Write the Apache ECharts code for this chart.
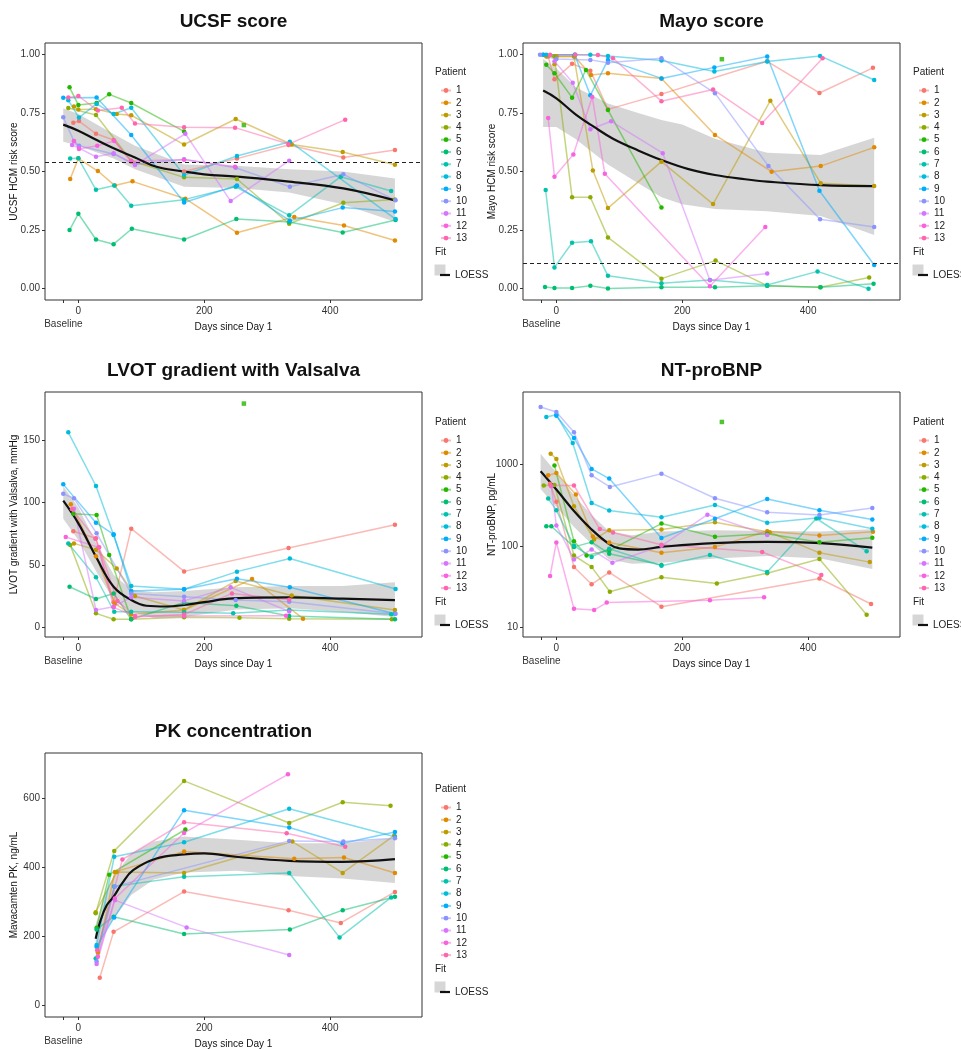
<!DOCTYPE html>
<html lang="en">
<head>
    <meta charset="UTF-8">
    <title>Mavacamten panels</title>
    <script src="https://cdn.jsdelivr.net/npm/echarts@6/dist/echarts.min.js"></script>
    <style>
        * { margin: 0; padding: 0; }
        html, body { background: #fff; }
    </style>
</head>
<body>
<div id="main" style="width: 961px;height:1049px;"></div>
<script type="text/javascript">
    var patients = ['1', '2', '3', '4', '5', '6', '7', '8', '9', '10', '11', '12', '13'];
    var colors = ['#F8766D', '#E18A00', '#BE9C00', '#8CAB00', '#24B700', '#00BE70', '#00C1AB',
        '#00BBDA', '#00ACFC', '#8B93FF', '#D575FE', '#F962DD', '#FF65AC'];
    var dayTicks = [-24, 0, 200, 400];

    // UCSF score, [day, score] per patient
    var ucsf = [
        [[-8, 0.708], [1, 0.715], [28, 0.661], [56, 0.634], [84, 0.542], [168, 0.50], [252, 0.555], [334, 0.613], [421, 0.56], [503, 0.592]],
        [[-13, 0.468], [0, 0.556], [31, 0.502], [58, 0.44], [86, 0.458], [170, 0.384], [252, 0.239], [343, 0.306], [422, 0.27], [503, 0.206]],
        [[-7, 0.777], [0, 0.764], [28, 0.766], [61, 0.745], [84, 0.74], [168, 0.615], [250, 0.724], [339, 0.615], [420, 0.583], [503, 0.529]],
        [[-16, 0.771], [28, 0.741], [84, 0.546], [168, 0.475], [252, 0.468], [335, 0.277], [421, 0.367], [503, 0.381]],
        [[-14, 0.859], [0, 0.784], [29, 0.792], [49, 0.829], [84, 0.792], [168, 0.671]],
        [[-14, 0.25], [0, 0.32], [28, 0.21], [56, 0.19], [85, 0.256], [168, 0.21], [251, 0.297], [335, 0.285], [420, 0.24], [504, 0.293]],
        [[-13, 0.555], [0, 0.556], [28, 0.422], [57, 0.44], [84, 0.354], [168, 0.38], [250, 0.435], [335, 0.313], [417, 0.478], [497, 0.417]],
        [[-16, 0.804], [1, 0.73], [29, 0.788], [56, 0.745], [84, 0.772], [168, 0.485], [252, 0.566], [336, 0.627], [504, 0.297]],
        [[-24, 0.815], [29, 0.816], [84, 0.656], [168, 0.368], [252, 0.44], [336, 0.29], [420, 0.346], [503, 0.329]],
        [[-24, 0.731], [-7, 0.63], [1, 0.61], [56, 0.575], [90, 0.53], [168, 0.552], [250, 0.516], [336, 0.435], [421, 0.488], [504, 0.377]],
        [[-10, 0.613], [1, 0.60], [28, 0.563], [56, 0.578], [90, 0.528], [170, 0.661], [242, 0.374], [335, 0.546]],
        [[-7, 0.63], [1, 0.596], [30, 0.61], [57, 0.63], [84, 0.545], [168, 0.55], [249, 0.52]],
        [[-16, 0.816], [0, 0.822], [31, 0.76], [69, 0.772], [90, 0.705], [168, 0.689], [249, 0.687], [334, 0.617], [424, 0.721]]
    ];
    var ucsfSquare = [[263, 0.698]];
    var ucsfFit = [[-24, 0.70], [0, 0.674], [29, 0.634], [56, 0.599], [90, 0.56], [124, 0.52], [168, 0.50], [200, 0.488], [251, 0.478], [335, 0.457], [421, 0.428], [503, 0.377]];
    var ucsfUpper = [[-24, 0.77], [0, 0.745], [56, 0.66], [90, 0.61], [168, 0.53], [252, 0.525], [335, 0.51], [420, 0.50], [503, 0.47]];
    var ucsfLower = [[-24, 0.627], [0, 0.61], [56, 0.555], [90, 0.51], [168, 0.435], [252, 0.43], [335, 0.41], [420, 0.36], [503, 0.286]];
    var ucsfCutoff = 0.542;

    // Mayo score
    var mayo = [
        [[-13, 0.99], [-3, 0.893], [25, 0.959], [54, 0.93], [82, 0.765], [167, 0.83], [335, 0.97], [418, 0.835], [503, 0.942]],
        [[-16, 0.99], [0, 0.99], [29, 0.99], [55, 0.912], [82, 0.919], [167, 0.897], [252, 0.656], [342, 0.499], [420, 0.523], [505, 0.603]],
        [[-3, 0.957], [0, 0.99], [28, 0.99], [58, 0.504], [82, 0.344], [167, 0.542], [249, 0.361], [340, 0.802], [420, 0.45], [505, 0.438]],
        [[-21, 0.998], [-3, 0.99], [25, 0.39], [54, 0.39], [82, 0.219], [167, 0.043], [253, 0.12], [335, 0.013], [419, 0.006], [497, 0.048]],
        [[-16, 0.955], [-3, 0.919], [25, 0.815], [47, 0.933], [82, 0.762], [167, 0.346]],
        [[-18, 0.007], [-3, 0.003], [25, 0.003], [54, 0.013], [82, 0.001], [167, 0.006], [252, 0.006], [335, 0.013], [420, 0.006], [504, 0.021]],
        [[-17, 0.421], [-3, 0.091], [25, 0.196], [55, 0.203], [82, 0.055], [167, 0.023], [244, 0.037], [335, 0.016], [415, 0.074], [496, 0.0]],
        [[-16, 0.998], [30, 0.998], [54, 0.998], [82, 0.993], [167, 0.973], [251, 0.926], [335, 0.969], [419, 0.993], [505, 0.89]],
        [[-21, 0.998], [29, 0.998], [54, 0.825], [82, 0.976], [167, 0.897], [251, 0.944], [335, 0.99], [418, 0.418], [505, 0.101]],
        [[-26, 0.998], [0, 0.98], [54, 0.976], [82, 0.964], [167, 0.983], [252, 0.834], [337, 0.523], [419, 0.296], [505, 0.263]],
        [[-3, 0.97], [26, 0.879], [54, 0.68], [87, 0.714], [169, 0.578], [244, 0.036], [335, 0.065]],
        [[-13, 0.728], [-3, 0.478], [27, 0.573], [57, 0.818], [77, 0.49], [244, 0.011], [332, 0.263]],
        [[-10, 0.998], [30, 0.998], [66, 0.997], [90, 0.983], [167, 0.80], [249, 0.85], [327, 0.707], [423, 0.983]]
    ];
    var mayoSquare = [[263, 0.979]];
    var mayoFit = [[-21, 0.845], [0, 0.812], [30, 0.745], [60, 0.69], [90, 0.64], [130, 0.59], [167, 0.549], [210, 0.51], [252, 0.485], [300, 0.467], [335, 0.457], [420, 0.442], [505, 0.438]];
    var mayoUpper = [[-21, 0.98], [0, 0.94], [30, 0.86], [82, 0.79], [130, 0.75], [167, 0.72], [200, 0.70], [252, 0.64], [335, 0.58], [420, 0.57], [505, 0.644]];
    var mayoLower = [[-21, 0.69], [0, 0.69], [30, 0.64], [82, 0.53], [130, 0.45], [167, 0.39], [200, 0.36], [252, 0.34], [335, 0.33], [420, 0.31], [505, 0.229]];
    var mayoCutoff = 0.111;

    // LVOT gradient with Valsalva, mmHg
    var lvot = [
        [[-8, 77], [28, 71.3], [56, 20], [84, 79], [168, 44.7], [334, 63.5], [503, 82.2]],
        [[-12, 98.6], [28, 56.8], [58, 19], [84, 10], [168, 13.7], [276, 38.6], [357, 6.7]],
        [[-7, 67.2], [28, 62], [61, 47], [90, 25], [168, 13.7], [250, 37], [339, 25.4], [503, 13.7]],
        [[-13, 66], [28, 11], [56, 6.2], [84, 6.2], [168, 7.8], [256, 7.5], [335, 6.7], [498, 6.2]],
        [[-8, 91], [29, 90], [49, 57.8], [84, 6.4]],
        [[-14, 32.4], [28, 22.5], [56, 27], [84, 6.2], [168, 19.8], [251, 17.1], [335, 8.8], [503, 6.2]],
        [[-16, 67.2], [28, 40], [57, 12.3], [84, 12.3], [168, 11.8], [246, 11], [335, 13.7], [497, 10.2]],
        [[-16, 156.4], [28, 113.3], [56, 74], [84, 33], [168, 30.3], [252, 44.5], [336, 55], [504, 30.5]],
        [[-24, 114.6], [28, 83.8], [56, 74.5], [84, 29], [168, 30.3], [252, 38.8], [336, 32], [503, 10.7]],
        [[-24, 107], [-7, 103.4], [29, 75.3], [84, 27], [168, 24.4], [250, 21.7], [335, 20.4], [504, 10.7]],
        [[-7, 95], [28, 13.7], [56, 16.3], [84, 24], [168, 21], [242, 31.9], [335, 12.5]],
        [[-20, 72.3], [32, 64], [56, 15.8], [90, 8.8], [168, 8.8], [330, 9.1]],
        [[-10, 94.6], [27, 71], [33, 64], [62, 21], [90, 8], [168, 10], [244, 27], [335, 22]]
    ];
    var lvotSquare = [[263, 179.5]];
    var lvotFit = [[-24, 101.5], [0, 83.3], [28, 56.5], [56, 32.4], [84, 21.7], [108, 17.1], [140, 16.5], [168, 17.7], [200, 20], [246, 23], [335, 23.8], [420, 22.8], [503, 21.7]];
    var lvotUpper = [[-24, 113], [0, 96], [28, 68], [56, 42], [84, 30], [120, 28], [168, 29], [252, 32], [336, 33], [420, 33], [503, 36]];
    var lvotLower = [[-24, 87], [0, 70], [28, 45], [56, 22], [84, 12], [120, 7], [168, 8], [252, 14], [336, 15], [420, 12], [503, 8]];

    // NT-proBNP, pg/mL
    var ntprobnp = [
        [[-10, 580], [0, 350], [28, 55], [56, 33.6], [84, 47], [167, 17.8], [418, 39.6], [500, 19.2]],
        [[-13, 737], [0, 790], [31, 428], [58, 130], [84, 110], [167, 82], [252, 97], [335, 151], [418, 134], [503, 149]],
        [[-9, 1365], [0, 1174], [28, 307], [60, 120], [84, 156], [167, 159], [252, 195], [339, 147], [418, 82], [498, 63]],
        [[-20, 553], [-3, 560], [28, 76], [56, 55], [85, 27.2], [167, 41], [255, 34.4], [335, 46], [418, 69], [493, 14.2]],
        [[-3, 972], [28, 114], [48, 76], [84, 88], [167, 188], [252, 129], [335, 141], [418, 111], [502, 126]],
        [[-16, 174], [-8, 174], [28, 97], [56, 111], [84, 80], [167, 58]],
        [[-13, 382], [0, 275], [28, 100], [56, 73], [84, 92], [167, 57], [244, 77], [335, 47.5], [413, 217], [493, 86]],
        [[-16, 3854], [0, 4100], [26, 1846], [56, 337], [84, 272], [167, 225], [252, 319], [335, 192], [418, 222], [502, 162]],
        [[0, 4000], [28, 2128], [56, 885], [84, 673], [167, 125], [252, 215], [335, 378], [418, 275], [502, 211]],
        [[-25, 5117], [0, 4446], [28, 2500], [56, 737], [85, 531], [167, 774], [252, 385], [335, 259], [418, 240], [502, 293]],
        [[-8, 541], [0, 178], [28, 68], [56, 90], [89, 62], [167, 100], [240, 242], [335, 136]],
        [[-10, 42.4], [0, 110], [28, 16.8], [60, 16.2], [80, 20], [244, 21.3], [330, 23.3]],
        [[-9, 553], [28, 553], [69, 161], [90, 146], [167, 103], [327, 84], [421, 43.6]]
    ];
    var ntprobnpSquare = [[263, 3350]];
    var ntprobnpFit = [[-25, 828], [0, 493], [28, 268], [56, 159], [84, 105], [100, 93], [130, 90], [167, 97], [250, 108], [335, 112], [420, 108], [502, 95]];
    var ntprobnpUpper = [[-25, 1365], [0, 800], [28, 420], [56, 240], [84, 150], [120, 135], [167, 150], [252, 155], [336, 152], [420, 150], [502, 160]];
    var ntprobnpLower = [[-25, 500], [0, 300], [28, 170], [56, 105], [84, 68], [120, 60], [167, 62], [252, 70], [336, 75], [420, 70], [502, 52]];

    // Mavacamten PK, ng/mL
    var pk = [
        [[34, 80], [56, 213], [168, 330], [334, 276], [417, 239], [503, 329]],
        [[31, 153], [58, 387], [168, 446], [343, 425], [422, 429], [503, 384]],
        [[27.5, 270], [61, 387], [168, 384], [340, 475], [420, 384], [502, 493]],
        [[27.5, 267], [57, 448], [168, 651], [335, 529], [420, 589], [496, 579]],
        [[29, 225], [49, 379], [170, 510]],
        [[29, 220], [56, 257], [168, 207], [336, 220], [420, 276], [503, 315]],
        [[27.5, 136], [57, 345], [168, 373], [335, 384], [415, 197], [497, 313]],
        [[29, 175], [57, 431], [168, 473], [335, 570], [503, 489]],
        [[29, 170], [57, 255], [168, 566], [335, 516], [420, 470], [503, 503]],
        [[29, 127], [58, 345], [335, 477], [421, 475], [503, 485]],
        [[29, 120], [58, 305], [172, 226], [335, 146]],
        [[31, 141], [58, 310], [168, 500], [333, 670]],
        [[30, 160], [70, 423], [168, 531], [331, 499], [424, 460]]
    ];
    var pkFit = [[27.5, 193], [35, 245], [45, 290], [56, 315], [70, 355], [87, 392], [124, 426], [168, 438], [200, 441], [250, 431], [335, 419], [420, 416], [503, 424]];
    var pkUpper = [[27.5, 235], [42, 320], [56, 375], [84, 440], [120, 475], [168, 490], [252, 480], [336, 470], [420, 470], [503, 485]];
    var pkLower = [[27.5, 150], [42, 215], [56, 250], [84, 320], [120, 365], [168, 385], [252, 390], [336, 375], [420, 368], [503, 355]];

    var font = 'Liberation Sans';
    var panels = [
        {title: 'UCSF score', yName: 'UCSF HCM risk score', lines: ucsf, square: ucsfSquare, fit: ucsfFit, upper: ucsfUpper, lower: ucsfLower,
            cutoff: ucsfCutoff, yTicks: [0, 0.25, 0.5, 0.75, 1], yMin: -0.048, yMax: 1.048, left: 45, top: 43, height: 257, legendY: 72, digits: 2},
        {title: 'Mayo score', yName: 'Mayo HCM risk score', lines: mayo, square: mayoSquare, fit: mayoFit, upper: mayoUpper, lower: mayoLower,
            cutoff: mayoCutoff, yTicks: [0, 0.25, 0.5, 0.75, 1], yMin: -0.048, yMax: 1.048, left: 523, top: 43, height: 257, legendY: 72, digits: 2},
        {title: 'LVOT gradient with Valsalva', yName: 'LVOT gradient with Valsalva, mmHg', lines: lvot, square: lvotSquare, fit: lvotFit, upper: lvotUpper, lower: lvotLower,
            yTicks: [0, 50, 100, 150], yMin: -8, yMax: 188.8, left: 45, top: 392, height: 245, legendY: 422},
        {title: 'NT-proBNP', yName: 'NT-proBNP, pg/mL', lines: ntprobnp, square: ntprobnpSquare, fit: ntprobnpFit, upper: ntprobnpUpper, lower: ntprobnpLower,
            yTicks: [10, 100, 1000], yMin: 7.54, yMax: 7834, log: true, left: 523, top: 392, height: 245, legendY: 422},
        {title: 'PK concentration', yName: 'Mavacamten PK, ng/mL', lines: pk, fit: pkFit, upper: pkUpper, lower: pkLower,
            yTicks: [0, 200, 400, 600], yMin: -34, yMax: 732, left: 45, top: 753, height: 264, legendY: 789}
    ];

    var grids = [], xAxes = [], yAxes = [], series = [], legends = [], graphics = [];

    panels.forEach(function (p, k) {
        grids.push({left: p.left, top: p.top, width: 377, height: p.height, show: true, borderColor: '#333', borderWidth: 1,
            backgroundColor: '#fff', outerBoundsMode: 'none'});
        xAxes.push({
            type: 'value', gridIndex: k, min: -53, max: 546,
            name: 'Days since Day 1', nameLocation: 'middle', nameGap: 22, nameMoveOverlap: false,
            nameTextStyle: {fontSize: 10, color: '#111', fontFamily: font},
            axisLine: {show: false, onZero: false},
            splitLine: {show: false},
            axisTick: {show: true, customValues: dayTicks, length: 3, lineStyle: {color: '#333'}},
            axisLabel: {customValues: dayTicks, margin: 5, fontSize: 10, lineHeight: 13, color: '#333', fontFamily: font,
                rich: {b: {padding: [0, 30, 0, 0], fontSize: 10, lineHeight: 13, color: '#333', fontFamily: font}},
                // "Baseline" sits under the -24 tick, drawn as the second line of the 0 label
                formatter: function (v) { return v < -10 ? '' : (v === 0 ? '0\n{b|Baseline}' : String(v)); }}
        });
        yAxes.push({
            type: p.log ? 'log' : 'value', logBase: 10, gridIndex: k, min: p.yMin, max: p.yMax,
            name: p.yName, nameLocation: 'middle', nameGap: 26, nameMoveOverlap: false,
            nameTextStyle: {fontSize: 10, color: '#111', fontFamily: font},
            axisLine: {show: false, onZero: false},
            splitLine: {show: false},
            axisTick: {show: true, customValues: p.yTicks, length: 3, lineStyle: {color: '#333'}},
            axisLabel: {customValues: p.yTicks, margin: 5, fontSize: 10, color: '#333', fontFamily: font,
                showMinLabel: true, showMaxLabel: true,
                formatter: function (v) { return p.digits ? Number(v).toFixed(p.digits) : String(v); }}
        });

        p.lines.forEach(function (d, i) {
            series.push({
                name: patients[i], type: 'line', xAxisIndex: k, yAxisIndex: k, data: d,
                symbol: 'circle', symbolSize: 4.5, showSymbol: true, silent: true,
                itemStyle: {color: colors[i]},
                lineStyle: {color: colors[i], width: 1.5, opacity: 0.5}
            });
        });
        if (p.square) {
            series.push({name: '5', type: 'scatter', xAxisIndex: k, yAxisIndex: k, data: p.square,
                symbol: 'rect', symbolSize: 4.5, itemStyle: {color: colors[4]}, silent: true});
        }
        series.push({
            type: 'custom', xAxisIndex: k, yAxisIndex: k, silent: true, data: p.upper,
            renderItem: function (params, api) {
                if (params.dataIndex !== 0) return null;
                var pts = p.upper.map(function (d) { return api.coord(d); })
                    .concat(p.lower.slice().reverse().map(function (d) { return api.coord(d); }));
                return {type: 'polygon', shape: {points: pts}, style: {fill: 'rgba(153,153,153,0.4)'}};
            }
        });
        var fit = {
            name: 'LOESS', type: 'line', xAxisIndex: k, yAxisIndex: k, data: p.fit, smooth: 0.4,
            symbol: 'none', silent: true, lineStyle: {color: '#111', width: 2.2}, itemStyle: {color: '#111'}
        };
        if (p.cutoff !== undefined) {
            fit.markLine = {silent: true, symbol: 'none', label: {show: false},
                lineStyle: {type: [4, 3], color: '#222', width: 1}, data: [{yAxis: p.cutoff}]};
        }
        series.push(fit);

        var lx = p.left + 377 + 13;
        legends.push({
            data: patients, orient: 'vertical', left: lx, top: p.legendY + 7.5,
            itemWidth: 10, itemHeight: 6, itemGap: 0.3, selectedMode: false,
            textStyle: {fontSize: 10, lineHeight: 12, color: '#222', fontFamily: font}
        });
        legends.push({
            data: [{name: 'LOESS', icon: 'rect'}], orient: 'vertical', left: lx, top: p.legendY + 192,
            itemWidth: 10, itemHeight: 2.2, selectedMode: false,
            textStyle: {fontSize: 10, lineHeight: 12, color: '#222', fontFamily: font}
        });
        graphics.push({type: 'rect', z: -1, shape: {x: lx - 0.5, y: p.legendY + 192.5, width: 11, height: 11},
            style: {fill: '#d6d6d6'}});
        graphics.push({type: 'text', x: lx, y: p.legendY, style: {text: 'Patient', font: '10px "Liberation Sans"',
            fill: '#222', textAlign: 'left', textVerticalAlign: 'middle', verticalAlign: 'middle'}});
        graphics.push({type: 'text', x: lx, y: p.legendY + 180, style: {text: 'Fit', font: '10px "Liberation Sans"',
            fill: '#222', textAlign: 'left', textVerticalAlign: 'middle', verticalAlign: 'middle'}});
        graphics.push({type: 'text', x: p.left + 188.5, y: p.top - 21, style: {text: p.title, font: 'bold 19px "Liberation Sans"',
            fill: '#111', textAlign: 'center', align: 'center', textVerticalAlign: 'middle', verticalAlign: 'middle'}});
    });

    var myChart = echarts.init(document.getElementById('main'));
    var option = {
        animation: false,
        backgroundColor: '#fff',
        textStyle: {fontFamily: font},
        grid: grids,
        xAxis: xAxes,
        yAxis: yAxes,
        legend: legends,
        graphic: graphics,
        series: series
    };
    myChart.setOption(option);
</script>
</body>
</html>
